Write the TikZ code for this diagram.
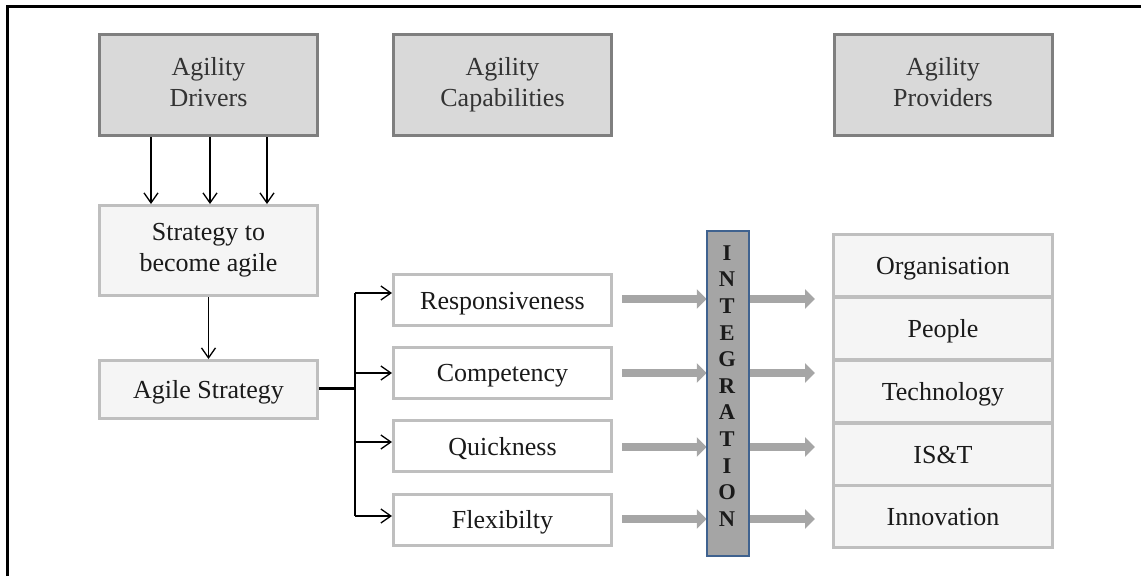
\documentclass[tikz,border=0pt]{standalone}
\usepackage{fontspec}
\setmainfont{Liberation Serif}
\usetikzlibrary{arrows.meta,calc}

\definecolor{headfill}{HTML}{D9D9D9}
\definecolor{headline}{HTML}{7F7F7F}
\definecolor{paleline}{HTML}{BFBFBF}
\definecolor{palefill}{HTML}{F5F5F5}
\definecolor{flowgray}{HTML}{A6A6A6}
\definecolor{barfill}{HTML}{A5A5A5}
\definecolor{barline}{HTML}{3F628F}
\definecolor{inktext}{HTML}{1A1A1A}

% invisible rule giving every text line the same height and depth
\newcommand\boxstrut{\rule[-6.3pt]{0pt}{31pt}}

\tikzset{
  base/.style={rectangle, inner sep=0pt, align=center, text=inktext,
    font=\fontsize{26}{31}\selectfont, line width=3pt,
    execute at begin node=\boxstrut, execute at end node=\boxstrut},
  headbox/.style={base, draw=headline, fill=headfill, text=black!80,
    minimum width=218pt, minimum height=101pt},
  stratbox/.style={base, draw=paleline, fill=palefill, minimum width=218pt},
  capbox/.style={base, draw=paleline, fill=white,
    minimum width=218pt, minimum height=51pt},
  provbox/.style={base, draw=paleline, fill=palefill,
    minimum width=219pt, minimum height=62pt},
  thinarrow/.style={line width=1.3pt, draw=black,
    -{Straight Barb[length=10pt,width=14pt,line width=1.3pt]}},
  flowarrow/.style={line width=8.5pt, draw=flowgray,
    -{Triangle[length=10pt,width=19pt]}},
  integbar/.style={rectangle, draw=barline, fill=barfill, line width=2.5pt,
    minimum width=42pt, minimum height=325pt, inner sep=0pt},
  integtext/.style={align=center, inner sep=0pt, text=inktext,
    font=\bfseries\fontsize{22.5}{26.6}\selectfont},
  frameline/.style={line width=3pt, draw=black}
}

\begin{document}
\begin{tikzpicture}[x=1pt,y=-1pt]
  \useasboundingbox (0,0) rectangle (1141,576);

  % outer frame (top and left edges)
  \coordinate (frameA) at (7.5,576);
  \coordinate (frameB) at (7.5,6);
  \coordinate (frameC) at (1141,6);
  \draw[frameline] (frameA) -- (frameB) -- (frameC);

  % column headings
  \node[headbox] (drv)  at (208.5,85) {Agility\\Drivers};
  \node[headbox] (capH) at (502.5,85) {Agility\\Capabilities};
  \node[headbox] (prov) at (943,85)   {Agility\\Providers};

  % strategy chain
  \node[stratbox, minimum height=90pt] (strat) at (208.5,250.5) {Strategy to\\become agile};
  \node[stratbox, minimum height=58pt] (agile) at (208.5,389.5) {Agile Strategy};

  \foreach \dx in {-57.5,1.5,58.5}
    \draw[thinarrow] ([xshift=\dx pt]drv.south) -- ([xshift=\dx pt]strat.north);
  \draw[thinarrow] (strat.south) -- (agile.north);

  % capabilities
  \node[capbox] (resp)  at (502.5,300)   {Responsiveness};
  \node[capbox] (comp)  at (502.5,372.5) {Competency};
  \node[capbox] (quick) at (502.5,446)   {Quickness};
  \node[capbox] (flex)  at (502.5,519.5) {Flexibilty};

  % fork from the agile strategy to the capabilities
  \coordinate (fork) at (355,388);
  \draw[line width=3pt] (agile.east |- fork) -- (fork);
  \draw[line width=1.5pt] ($(fork |- resp.west)+(0,-7)$) -- ($(fork |- flex.west)+(0,-3.5)$);
  \draw[thinarrow] ($(fork |- resp.west)+(0,-7)$)   -- ($(resp.west)+(0,-7)$);
  \draw[thinarrow] ($(fork |- comp.west)+(0,0.5)$)  -- ($(comp.west)+(0,0.5)$);
  \draw[thinarrow] ($(fork |- quick.west)+(0,-4)$)  -- ($(quick.west)+(0,-4)$);
  \draw[thinarrow] ($(fork |- flex.west)+(0,-3.5)$) -- ($(flex.west)+(0,-3.5)$);

  % integration bar
  \node[integbar] (integ) at (728,393.5) {};
  \coordinate (integlbl) at (727,386);

  % providers
  \node[provbox] (org)   at (943,265)   {Organisation};
  \node[provbox] (ppl)   at (943,328)   {People};
  \node[provbox] (tech)  at (943,391)   {Technology};
  \node[provbox] (ist)   at (943,454)   {IS\&T};
  \node[provbox] (innov) at (943,516.5) {Innovation};

  % flows into and out of the integration bar
  \foreach \c/\dy in {resp/-1,comp/0.5,quick/1,flex/-0.5}{
    \draw[flowarrow] ($(\c.east)+(9,\dy)$) -- ($(integ.west |- \c.east)+(1,\dy)$);
    \draw[flowarrow] ($(integ.east |- \c.east)+(-1,\dy)$) -- ($(org.west |- \c.east)+(-17,\dy)$);
  }
  % bar redrawn over the arrow ends, with its lettering
  \node[integbar] (integtop) at (integ) {};
  \node[integtext] (integword) at (integlbl) {I\\N\\T\\E\\G\\R\\A\\T\\I\\O\\N};
\end{tikzpicture}
\end{document}
